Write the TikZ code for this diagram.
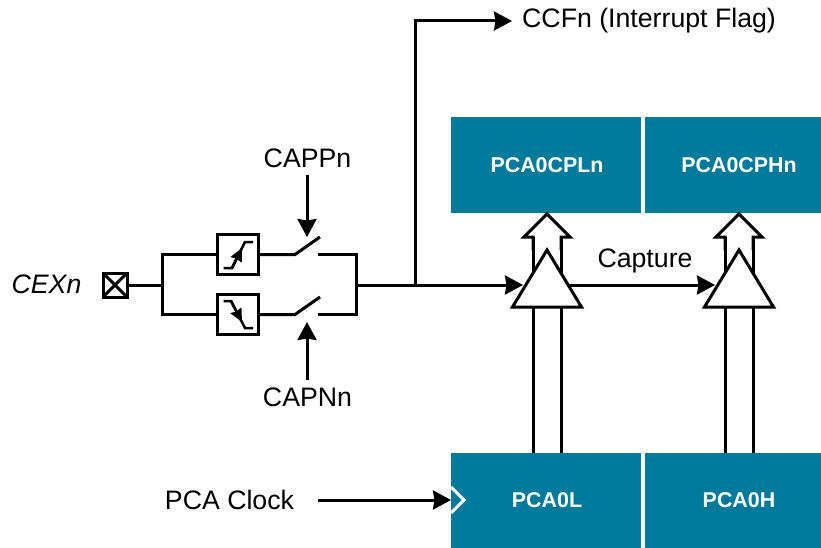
\documentclass[tikz,border=0pt]{standalone}
\usepackage{fontspec}
\setmainfont{Liberation Sans}
\usetikzlibrary{shapes.geometric, arrows.meta, positioning}
\definecolor{pcablue}{HTML}{007A9A}
\tikzset{
  wire/.style={line width=3pt, line join=miter},
  arrowwire/.style={wire, -{Stealth[length=18pt,width=19pt,inset=1.5pt]}},
  regblock/.style={fill=pcablue, text=white, minimum height=96pt, anchor=north west,
    font=\fontsize{21.4}{24}\selectfont\bfseries, inner sep=0pt, outer sep=0pt},
  lbl/.style={font=\fontsize{26.7}{30}\selectfont, inner sep=0pt},
  gatebox/.style={draw, line width=3pt, minimum width=41pt, minimum height=40pt, inner sep=0pt, outer sep=0pt},
  latch/.style={draw, fill=white, line width=3pt, isosceles triangle, isosceles triangle stretches,
    shape border rotate=90, minimum width=69pt, minimum height=57pt, inner sep=0pt, outer sep=0pt, anchor=apex},
}
\begin{document}
\begin{tikzpicture}[x=1pt,y=-1pt]
\useasboundingbox (0,0) rectangle (821,548);

% register blocks
\node[regblock, minimum width=190pt] (cpl) at (451,117) {\hspace*{2pt}PCA0CPLn};
\node[regblock, minimum width=188pt] (cph) at (645,117) {PCA0CPHn};
\node[regblock, minimum width=190pt, minimum height=95pt] (pcal) at (451,453) {\hspace*{2pt}PCA0L};
\node[regblock, minimum width=188pt, minimum height=95pt] (pcah) at (645,453) {PCA0H};

% input pin
\node[lbl, font=\fontsize{26.7}{30}\selectfont\itshape] (cex) at (46.5,284) {CEXn};
\node[draw, line width=3pt, minimum size=24pt, inner sep=0pt, outer sep=0pt] (pin) at (115,285) {};
\draw[line width=3pt] (pin.north west) -- (pin.south east);
\draw[line width=3pt] (pin.north east) -- (pin.south west);

% edge detect boxes
\node[gatebox] (rise) at (238,254.5) {};
\node[gatebox] (fall) at (238,314.5) {};
\draw[line width=2.5pt] (223.5,268) -- (232,268) -- (245,242) -- (253,242);
\draw[line width=2.5pt, -{Stealth[length=13pt,width=12pt,inset=1pt]}] (232,268) -- (242,248);
\draw[line width=2.5pt] (223.5,301) -- (231,301) -- (245,328) -- (253,328);
\draw[line width=2.5pt, -{Stealth[length=13pt,width=12pt,inset=1pt]}] (231,301) -- (242,322);

% left fork
\coordinate (forkin) at (162,285);
\coordinate (forkup) at (162,254.5);
\coordinate (forkdn) at (162,314.5);
\draw[wire] (pin.east) -- (forkin);
\draw[wire] (rise.west) -- (forkup) -- (forkdn) -- (fall.west);

% switches
\coordinate (swup) at (295,254.5);
\coordinate (swdn) at (295,314.5);
\coordinate (bladeup) at (320,237);
\coordinate (bladedn) at (320,297);
\coordinate (contup) at (318,254.5);
\coordinate (contdn) at (318,314.5);
\coordinate (forkout) at (356,285);
\draw[wire] (rise.east) -- (swup) -- (bladeup);
\draw[wire] (fall.east) -- (swdn) -- (bladedn);
\draw[wire] (contup) -- (356,254.5) -- (356,314.5) -- (contdn);

% switch controls
\node[lbl] (capp) at (307.5,158) {CAPPn};
\node[lbl] (capn) at (307.5,397) {CAPNn};
\coordinate (cappin) at (307,237);
\coordinate (capnin) at (307,322);
\draw[arrowwire] (307,175) -- (cappin);
\draw[arrowwire] (307,380) -- (capnin);

% first capture column
\begin{scope}
\draw[wire, fill=white] (533,250) -- (533,237) -- (524,237) -- (547,214) -- (570,237) -- (561,237) -- (561,250);
\draw[wire] (533,237) -- (533,453);
\draw[wire] (561,237) -- (561,453);
\node[latch] (lata) at (547,250) {};
\end{scope}

% second capture column
\begin{scope}[shift={(192,0)}]
\draw[wire, fill=white] (533,250) -- (533,237) -- (524,237) -- (547,214) -- (570,237) -- (561,237) -- (561,250);
\draw[wire] (533,237) -- (533,453);
\draw[wire] (561,237) -- (561,453);
\node[latch] (latb) at (547,250) {};
\end{scope}

% capture path
\coordinate (branch) at (415,285);
\coordinate (flagin) at (512,21);
\coordinate (latain) at (523,285);
\coordinate (lataout) at (570,285);
\coordinate (latbin) at (715,285);
\draw[arrowwire] (forkout) -- (latain);
\draw[arrowwire] (branch) -- (415,21) -- (flagin);
\draw[arrowwire] (lataout) -- (latbin);
\node[lbl, anchor=west] (ccf) at (522,21) {CCFn (Interrupt Flag)};
\node[lbl] (capt) at (645,261) {Capture};

% clock
\node[lbl] (clk) at (229.5,500) {PCA Clock};
\coordinate (clkin) at (451,500);
\draw[arrowwire] (318,500) -- (clkin);
\draw[white, line width=3pt] (451,487) -- (464,500) -- (451,513);
\end{tikzpicture}
\end{document}
